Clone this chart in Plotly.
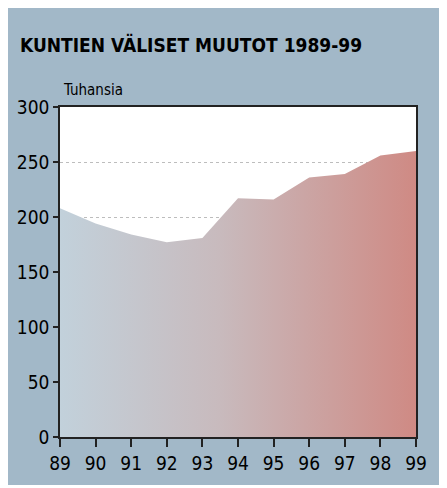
import plotly.graph_objects as go

years = [89, 90, 91, 92, 93, 94, 95, 96, 97, 98, 99]
values = [208, 194, 184, 177, 181, 217, 216, 236, 239, 256, 260]
y_ticks = [0, 50, 100, 150, 200, 250, 300]
title_text = "KUNTIEN VÄLISET MUUTOT 1989-99"
unit_text = "Tuhansia"

FONT = "DejaVu Sans Condensed, DejaVu Sans, sans-serif"
PANEL = "#a2b8c8"

fig = go.Figure()
fig.add_trace(go.Scatter(
    x=years, y=values, mode="lines", fill="tozeroy",
    line=dict(width=0, color="rgba(0,0,0,0)"),
    fillgradient=dict(type="horizontal",
                      colorscale=[[0, "#c2d1db"], [0.45, "#c8babd"], [1, "#cf8a84"]]),
    hoverinfo="skip", showlegend=False,
))

# page has an 8px body margin; figure coords = page coords - 8
OFF = 8
W, H = 447 - OFF, 488 - OFF
L, T = 60 - OFF, 107 - OFF
R = W - (416 - OFF)
B = H - (437 - OFF)
pw, ph = W - L - R, H - T - B

def px(x):  # page x -> paper
    return (x - OFF - L) / pw

def py(y):  # page y -> paper
    return (H - B - (y - OFF)) / ph

# thin white frame right/bottom of the blue-grey panel
for x0, x1, y0, y1 in [(443, 447, 0, 488), (0, 447, 485, 488)]:
    fig.add_shape(type="rect", xref="paper", yref="paper", layer="above",
                  x0=px(x0), x1=px(x1 + 2), y0=py(y1 + 2), y1=py(y0),
                  fillcolor="white", line=dict(width=0))

fig.add_annotation(text="<b>" + title_text + "</b>", xref="paper", yref="paper",
                   x=px(18), y=py(45), xanchor="left", yanchor="middle",
                   showarrow=False, font=dict(family=FONT, size=19, color="black"))
fig.add_annotation(text=unit_text, xref="paper", yref="paper",
                   x=px(61), y=py(90), xanchor="left", yanchor="middle",
                   showarrow=False, font=dict(family=FONT, size=15, color="black"))

fig.update_layout(
    width=W, height=H,
    margin=dict(l=L, r=R, t=T, b=B, autoexpand=False),
    paper_bgcolor=PANEL, plot_bgcolor="white",
    font=dict(family=FONT, size=19, color="black"),
)
fig.update_xaxes(
    range=[89, 99], tickvals=years, ticktext=[str(y) for y in years],
    showgrid=False, zeroline=False, automargin=False,
    showline=True, linecolor="#222", linewidth=1.5, mirror=True,
    ticks="outside", ticklen=8, tickcolor="#222", tickwidth=1.5,
    tickfont=dict(family=FONT, size=19),
)
fig.update_yaxes(
    range=[0, 300], tickvals=y_ticks,
    showgrid=True, gridcolor="#bdbdbd", griddash="dot", gridwidth=1,
    zeroline=False, automargin=False,
    showline=True, linecolor="#222", linewidth=1.5, mirror=True,
    ticks="outside", ticklen=5, tickcolor="#222", tickwidth=1.5,
    tickfont=dict(family=FONT, size=19),
)

fig.write_html("out.html")
